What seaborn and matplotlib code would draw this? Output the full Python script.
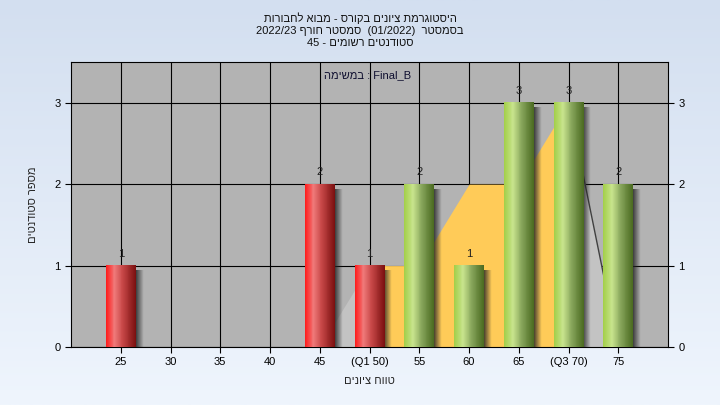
import numpy as np
import pandas as pd
import matplotlib
matplotlib.use("Agg")
import matplotlib.pyplot as plt
import seaborn as sns
from matplotlib.colors import to_rgb

# ---------------- data ----------------
tick_labels = ["25", "30", "35", "40", "45", "(Q1 50)", "55", "60", "65", "(Q3 70)", "75"]
counts = [1, 0, 0, 0, 2, 1, 2, 1, 3, 3, 2]
area_values = [0, 0, 0, 0, 0, 1, 1, 2, 2, 3, 0]
pass_flags = [False, False, False, False, False, False, True, True, True, True, True]
q1_index = 5
q3_index = 9

# visual-order (RTL already laid out) Hebrew strings
title_lines = [
    "תורובחל אובמ - סרוקב םינויצ תמרגוטסיה",
    "2022/23 ףרוח רטסמס  (01/2022)  רטסמסב",
    "45 - םימושר םיטנדוטס",
]
subtitle = "המישמב : Final_B"
xlabel = "םינויצ חווט"
ylabel = "םיטנדוטס רפסמ"

sns.set_theme(style="white")
plt.rcParams["font.family"] = ["Liberation Sans", "DejaVu Sans"]

fig = plt.figure(figsize=(7.2, 4.05), dpi=100)

# figure background gradient
bg = fig.add_axes([0, 0, 1, 1], zorder=-10)
top_c = np.array(to_rgb("#d3dff0"))
bot_c = np.array(to_rgb("#eff5fd"))
t = np.linspace(0, 1, 256)[:, None]
grad = top_c[None, None, :] * (1 - t[..., None]) + bot_c[None, None, :] * t[..., None]
bg.imshow(grad, aspect="auto", extent=[0, 1, 0, 1])
bg.set_axis_off()

ax = fig.add_axes([71 / 720, 1 - 347 / 405, (668 - 71) / 720, (347 - 62) / 405])
ax.set_facecolor("#b3b3b3")

df = pd.DataFrame({"grade": tick_labels, "count": counts})
red_c, green_c = "#d84040", "#90b050"
pal = {lab: (green_c if p else red_c) for lab, p in zip(tick_labels, pass_flags)}
sns.barplot(data=df, x="grade", y="count", hue="grade", palette=pal, legend=False,
            width=0.6, ax=ax, zorder=3, saturation=1, linewidth=0)

# area series behind bars
xs = np.arange(len(tick_labels))
av = np.array(area_values, dtype=float)
inside = (xs >= q1_index) & (xs <= q3_index)
left_part = (xs >= q1_index - 1) & (xs <= q1_index)
right_part = (xs >= q3_index) & (xs <= q3_index + 1)
ax.fill_between(xs, 0, av, where=inside, color="#ffcb58", lw=0, zorder=1.5)
ax.fill_between(xs, 0, av, where=left_part, color="#c3c3c3", lw=0, zorder=1.4)
ax.fill_between(xs, 0, av, where=right_part, color="#c3c3c3", lw=0, zorder=1.4)
ax.plot(xs[q3_index:q3_index + 2], av[q3_index:q3_index + 2], color="#404040", lw=1, zorder=1.6)

# cylinder gradients and shadows
def stops_to_img(stops, n=64):
    pos = np.array([s[0] for s in stops])
    cols = np.array([to_rgb(s[1]) for s in stops])
    u = np.linspace(0, 1, n)
    img = np.stack([np.interp(u, pos, cols[:, k]) for k in range(3)], axis=-1)
    return np.repeat(img[None, :, :], 4, axis=0)

red_img = stops_to_img([(0, "#ff1a1a"), (0.28, "#f07a7a"), (0.55, "#c84848"), (1, "#7a1010")])
green_img = stops_to_img([(0, "#a2cf48"), (0.3, "#c8e48e"), (0.6, "#86a45a"), (1, "#4a6a20")])
shadow = np.zeros((4, 32, 4))
shadow[..., :3] = 0.15
shadow[:, :, 3] = np.linspace(0.85, 0.0, 32)[None, :]

for patch, val, p in zip(ax.patches, counts, pass_flags):
    patch.set_visible(False)
    if val <= 0:
        continue
    x0 = patch.get_x()
    w = patch.get_width()
    h = patch.get_height()
    ax.imshow(green_img if p else red_img, extent=[x0, x0 + w, 0, h], aspect="auto",
              zorder=3.5, interpolation="nearest")
    ax.imshow(shadow, extent=[x0 + w, x0 + w + 0.15, 0, h - 0.06], aspect="auto",
              zorder=2.9, interpolation="nearest")
    ax.annotate(str(val), (x0 + w / 2, h), xytext=(0, 5), textcoords="offset points",
                ha="center", va="bottom", fontsize=8, color="#202020", zorder=5)

ax.set_xlim(-1, 11)
ax.set_ylim(0, 3.5)
ax.set_xticks(xs)
ax.set_xticklabels(tick_labels)
ax.set_yticks([0, 1, 2, 3])
ax.grid(True, color="black", lw=0.8, zorder=0)
ax.set_axisbelow(True)
for s in ax.spines.values():
    s.set_color("black")
    s.set_linewidth(0.8)
ax.tick_params(axis="both", which="both", direction="out", length=4, width=0.8,
               colors="black", labelsize=8, bottom=True, left=True, right=True,
               labelright=True)
ax.set_xlabel(xlabel, fontsize=8, labelpad=6)
ax.set_ylabel(ylabel, fontsize=8, labelpad=12)

ax.text(0.5 - 2 / 597, 1 - 13 / 285, subtitle, transform=ax.transAxes, ha="center", va="center",
        fontsize=8, color="#101030", zorder=6)

for i, line in enumerate(title_lines):
    fig.text(0.5, 1 - (18 + 12.5 * i) / 405, line, ha="center", va="center", fontsize=8,
             color="#101010")

fig.savefig("out.png", dpi=100)
